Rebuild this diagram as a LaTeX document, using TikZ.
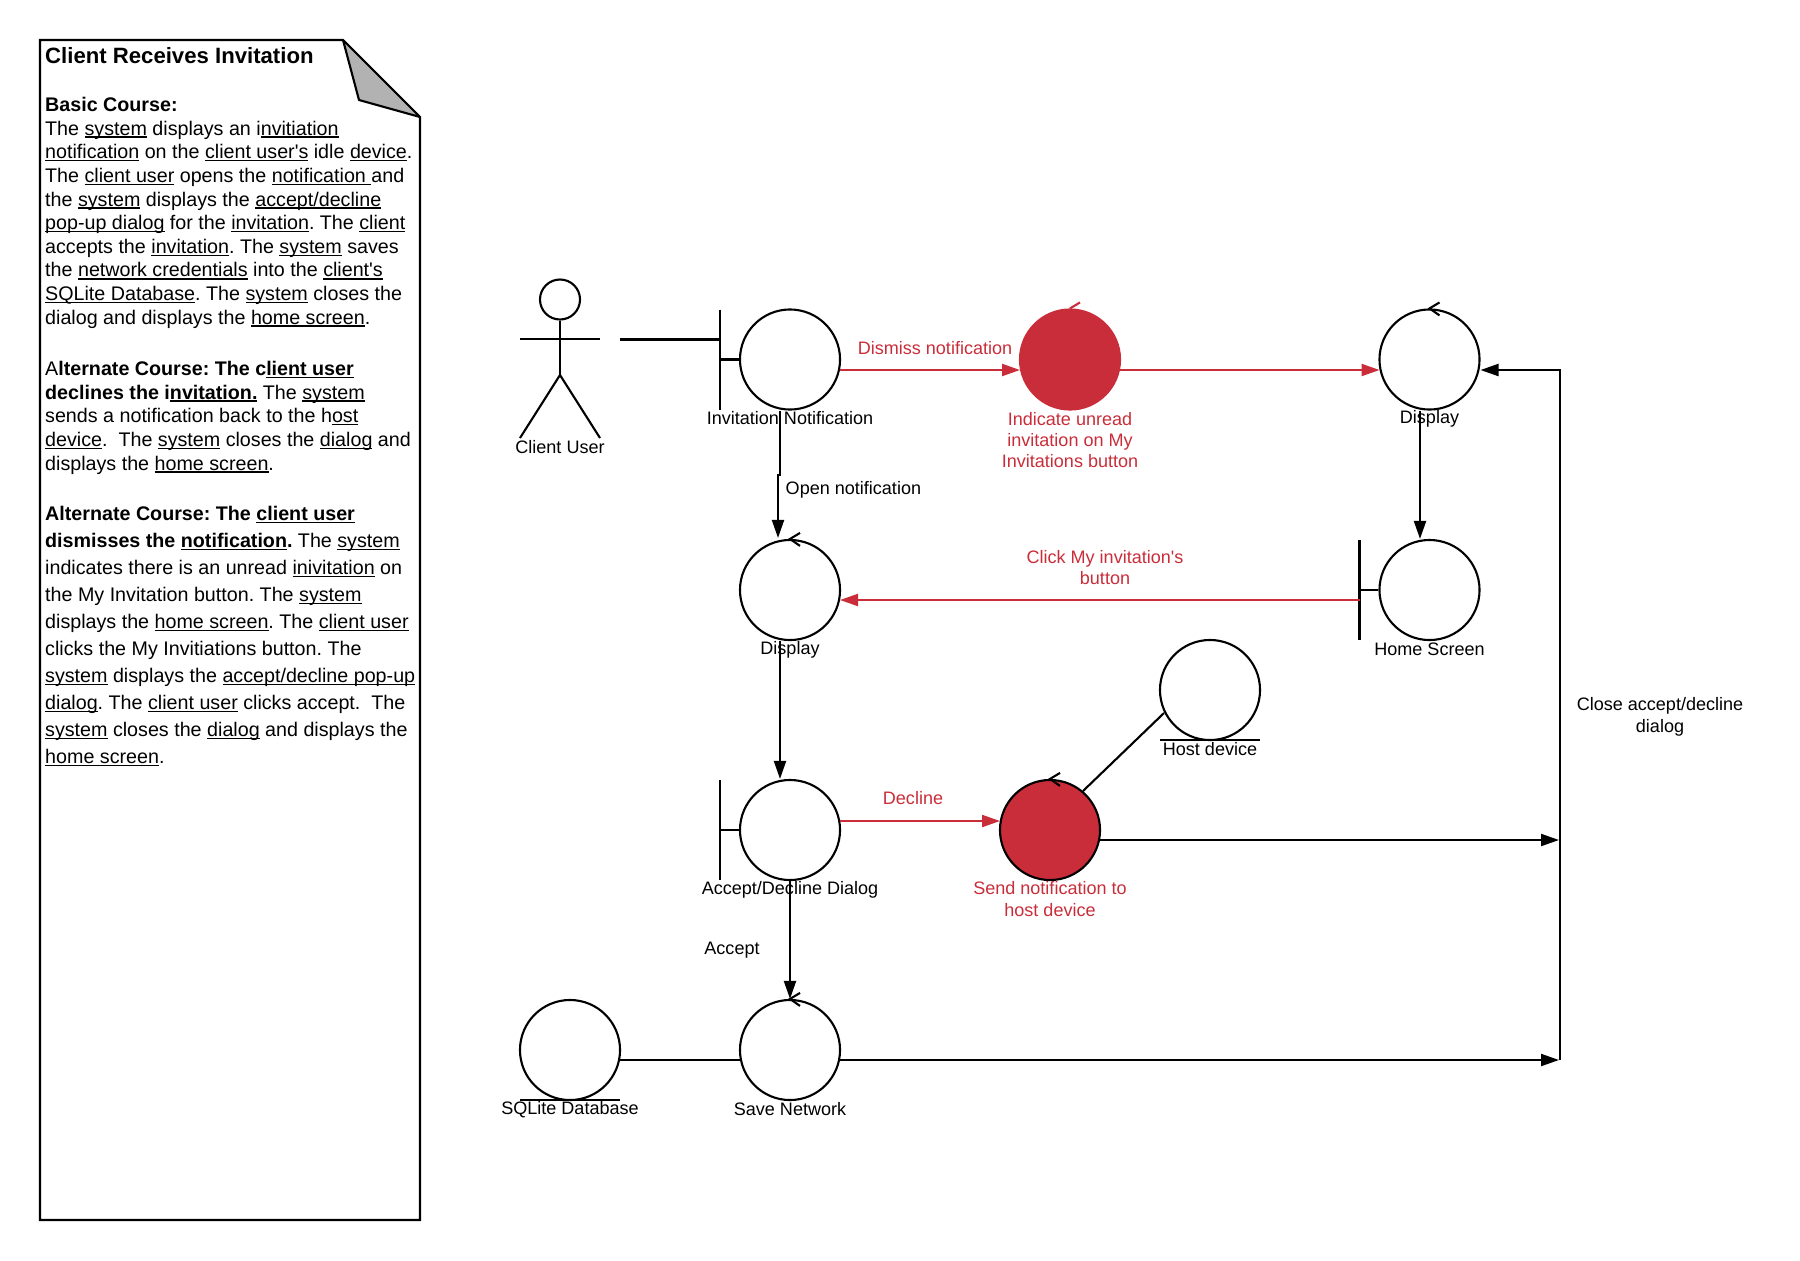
\documentclass[tikz,border=0pt]{standalone}
\usepackage{fontspec}
\usetikzlibrary{arrows.meta,calc}
\setmainfont[Ligatures=TeXOff]{Liberation Sans}
\frenchspacing
\newcommand{\uline}[1]{\leavevmode\setbox0\hbox{#1}\rlap{\rule[-0.75pt]{\wd0}{0.4pt}}\box0\relax}
\definecolor{alertred}{HTML}{C92D39}
\tikzset{
    obj/.style={circle, draw, line width=0.6pt, minimum size=1cm, inner sep=0pt, fill=white},
    redobj/.style={obj, fill=alertred},
    lbl/.style={font=\fontsize{5.13}{6.1}\selectfont, align=center, inner sep=0pt},
    redlbl/.style={lbl, text=alertred},
    notetext/.style={anchor=north west, align=left, inner sep=0pt},
    flow/.style={line width=0.6pt, -{Triangle[length=0.18cm,width=0.12cm]}},
    redflow/.style={flow, alertred},
    plain/.style={line width=0.6pt}
}
\begin{document}
\begin{tikzpicture}[x=0.01cm, y=-0.01cm]
    \useasboundingbox (0,0) rectangle (1800,1260);
    % Use case note with folded corner
    \draw[line width=0.6pt] (40,40) -- (343,40) -- (420,117) -- (420,1220) -- (40,1220) -- cycle;
    \draw[line width=0.6pt, fill=black!30, line join=bevel] (343,40) -- (359,100) -- (420,117) -- cycle;
    \node[notetext, font=\fontsize{6.3}{7.5}\selectfont\bfseries] (title) at (44.5,46.5) {Client Receives Invitation};
    \node[notetext, font=\fontsize{5.6}{6.72}\selectfont] (basic) at (44.5,96.5) {%
        \textbf{Basic Course:}\\
        The \uline{system} displays an i\uline{nvitiation}\\
        \uline{notification} on the \uline{client user's} idle \uline{device}.\\
        The \uline{client user} opens the \uline{notification\ }and\\
        the \uline{system} displays the \uline{accept/decline}\\
        \uline{pop-up dialog} for the \uline{invitation}. The \uline{client}\\
        accepts the \uline{invitation}. The \uline{system} saves\\
        the \uline{network credentials} into the \uline{client's}\\
        \uline{SQLite Database}. The \uline{system} closes the\\
        dialog and displays the \uline{home screen}.};
    \node[notetext, font=\fontsize{5.6}{6.72}\selectfont] (altone) at (44.5,360.5) {%
        A\textbf{lternate Course: The c\uline{lient user}}\\
        \textbf{declines the i\uline{nvitation.}} The \uline{system}\\
        sends a notification back to the h\uline{ost}\\
        \uline{device}.\ \ The \uline{system} closes the \uline{dialog} and\\
        displays the \uline{home screen}.};
    \node[notetext, font=\fontsize{5.6}{7.68}\selectfont] (alttwo) at (44.5,505.5) {%
        \textbf{Alternate Course: The \uline{client user}}\\
        \textbf{dismisses the \uline{notification}.} The \uline{system}\\
        indicates there is an unread \uline{inivitation} on\\
        the My Invitation button. The \uline{system}\\
        displays the \uline{home screen}. The \uline{client user}\\
        clicks the My Invitiations button. The\\
        \uline{system} displays the \uline{accept/decline pop-up}\\
        \uline{dialog}. The \uline{client user} clicks accept.\ \ The\\
        \uline{system} closes the \uline{dialog} and displays the\\
        \uline{home screen}.};

    % Actor
    \node[circle, draw, line width=0.6pt, minimum size=0.4cm, inner sep=0pt] (head) at (560,299.5) {};
    \coordinate (hip) at (560,375);
    \coordinate (lefthand) at (520,339);
    \coordinate (righthand) at (600,339);
    \draw[plain] (head) -- (hip);
    \draw[plain] (lefthand) -- (righthand);
    \draw[plain] (520,438) -- (hip) -- (600,438);
    \node[lbl] (clientlbl) at (560,447) {Client User};

    % Objects
    \node[obj] (invitation) at (790,359.5) {};
    \node[redobj, draw=alertred] (unread) at (1070,359.5) {};
    \node[obj] (displayone) at (1429.5,359.5) {};
    \node[obj] (displaytwo) at (790,590) {};
    \node[obj] (home) at (1429.5,590) {};
    \node[obj] (host) at (1210,690) {};
    \node[obj] (dialog) at (790,830) {};
    \node[redobj] (send) at (1050,830) {};
    \node[obj] (database) at (570,1050) {};
    \node[obj] (save) at (790,1050) {};

    % Boundary bars
    \foreach \n in {invitation,home,dialog} {
        \draw[plain] ($(\n)+(-70,-50)$) -- ($(\n)+(-70,50)$);
        \draw[plain] ($(\n)+(-70,0)$) -- (\n.west);
    }
    % Entity underlines
    \foreach \n in {host,database} {
        \draw[plain] ($(\n)+(-50,50)$) -- ($(\n)+(50,50)$);
    }
    % Control marks
    \foreach \n in {displayone,displaytwo,save,send} {
        \draw[plain] ($(\n.north)+(10,-6)$) -- (\n.north) -- ($(\n.north)+(10,7)$);
    }
    \draw[plain, alertred] ($(unread.north)+(10,-6)$) -- (unread.north);

    % Connectors
    \coordinate (bus) at (1560,1060);
    \draw[plain] ($(invitation)+(-70,-20)$) -- ($(invitation)+(-170,-20)$);
    \draw[flow] ($(invitation.south)+(-10,0)$) -- ++(0,64) -- ++(-2,0) -- ($(displaytwo.north)+(-12,-1)$);
    \draw[redflow] ($(invitation)+(50,10.5)$) -- ($(unread)+(-50,10.5)$);
    \draw[redflow] ($(unread)+(50,10.5)$) -- ($(displayone)+(-50,10.5)$);
    \draw[flow] ($(displayone.south)+(-9.5,0)$) -- ($(home.north)+(-9.5,0)$);
    \draw[redflow] ($(home)+(-70,10)$) -- ($(displaytwo)+(50,10)$);
    \draw[flow] ($(displaytwo.south)+(-10,0)$) -- ($(dialog.north)+(-10,0)$);
    \draw[redflow] ($(dialog)+(50,-9)$) -- ($(send)+(-50,-9)$);
    \draw[plain] ($(host)+(-46,23)$) -- ($(send)+(33,-39)$);
    \draw[flow] ($(send)+(50,10)$) -- ($(bus)+(-1,-220)$);
    \draw[flow] (dialog.south) -- (save.north);
    \draw[plain] ($(database)+(50,10)$) -- ($(save)+(-50,10)$);
    \draw[flow] ($(save)+(50,10)$) -- ($(bus)+(-1,0)$);
    \draw[flow] (bus) -- (1560,370) -- ($(displayone)+(51,10.5)$);

    % Labels
    \node[lbl] (invitationlbl) at (790,418) {Invitation Notification};
    \node[redlbl] (dismisslbl) at (935,348) {Dismiss notification};
    \node[redlbl] (unreadlbl) at (1070,440) {Indicate unread\\invitation on My\\Invitations button};
    \node[lbl] (displayonelbl) at (1429.5,419) {Display};
    \node[lbl, anchor=west] (openlbl) at (785,489.5) {Open notification};
    \node[redlbl] (clicklbl) at (1105,567.5) {Click My invitation's\\button};
    \node[lbl] (displaytwolbl) at (790,650) {Display};
    \node[lbl] (homelbl) at (1429.5,649.5) {Home Screen};
    \node[lbl] (hostlbl) at (1210,749) {Host device};
    \node[lbl] (closelbl) at (1660,717) {Close accept/decline\\dialog};
    \node[redlbl] (declinelbl) at (913,798) {Decline};
    \node[lbl] (dialoglbl) at (790,890) {Accept/Decline Dialog};
    \node[redlbl] (sendlbl) at (1050,899) {Send notification to\\host device};
    \node[lbl] (acceptlbl) at (732,950) {Accept};
    \node[lbl] (databaselbl) at (570,1110) {SQLite Database};
    \node[lbl] (savelbl) at (790,1109) {Save Network};
\end{tikzpicture}
\end{document}
